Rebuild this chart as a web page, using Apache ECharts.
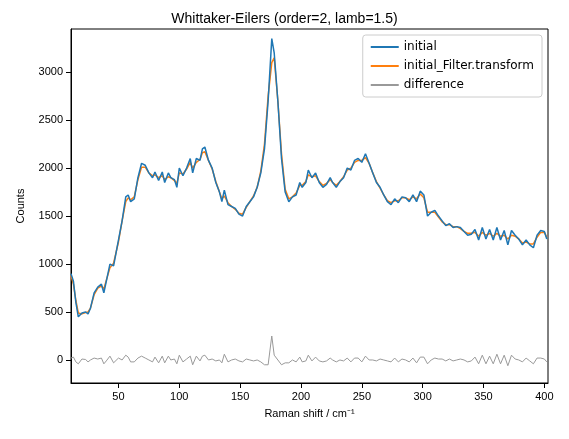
<!DOCTYPE html><html><head><meta charset="utf-8"><script src="https://cdn.jsdelivr.net/npm/echarts@6/dist/echarts.min.js"></script></head><body style="margin:0"><div id="c" style="width:569px;height:439px"></div><script>
const xs=[11,13,15,17,20,23,25,27,30,33,36,38,40,43,46,50,53,56,58,60,63,66,69,72,75,78,80,83,86,88,91,93,96,98,100,103,106,109,111,114,117,119,121,124,127,130,133,135,137,140,143,146,149,152,155,158,161,164,167,170,173,176,178,181,184,187,190,193,196,199,201,204,206,209,212,215,218,221,224,226,229,232,235,238,241,244,247,250,253,256,259,262,265,268,271,274,277,280,283,286,289,292,295,298,301,304,307,310,313,316,319,322,325,328,331,334,337,340,343,346,349,352,355,358,361,364,367,370,373,376,379,382,385,388,391,394,397,400,402];
const initial=[900,820,600,450,490,500,480,540,700,760,790,700,820,1000,980,1250,1450,1700,1720,1650,1680,1900,2050,2030,1950,1900,1960,1870,1960,1850,1950,1900,1880,1800,2000,1920,2000,2100,1950,2100,2080,2200,2220,2080,2000,1850,1750,1650,1770,1620,1600,1580,1520,1500,1600,1650,1700,1800,1950,2200,2700,3350,3200,2700,2100,1750,1650,1700,1720,1850,1800,1850,1980,1900,1950,1850,1800,1830,1900,1850,1800,1860,1900,2000,1980,2080,2100,2060,2150,2050,1950,1850,1800,1720,1650,1620,1680,1640,1700,1690,1650,1720,1650,1760,1720,1500,1540,1560,1500,1450,1400,1420,1380,1390,1380,1340,1300,1310,1360,1250,1380,1260,1360,1250,1380,1250,1350,1200,1350,1300,1260,1200,1250,1200,1170,1300,1350,1340,1260];
const filtered=[880,790,620,490,480,495,500,540,680,750,770,740,830,960,1010,1230,1450,1650,1690,1670,1700,1880,2010,2010,1950,1920,1930,1900,1920,1880,1910,1900,1870,1840,1950,1940,1990,2060,2000,2060,2090,2160,2170,2080,1990,1860,1750,1680,1710,1640,1600,1570,1530,1520,1590,1650,1710,1800,1970,2250,2750,3100,3150,2700,2150,1780,1680,1700,1740,1820,1820,1860,1930,1910,1920,1860,1820,1840,1880,1850,1820,1860,1910,1980,2000,2060,2080,2080,2110,2050,1950,1860,1790,1720,1660,1640,1660,1660,1690,1690,1670,1700,1680,1730,1690,1540,1540,1540,1490,1440,1410,1410,1390,1390,1370,1340,1320,1320,1330,1290,1330,1300,1320,1290,1320,1290,1300,1260,1300,1290,1260,1220,1230,1210,1210,1280,1330,1330,1280];
const diff=initial.map((v,i)=>v-filtered[i]);
const pairs=a=>xs.map((x,i)=>[x,a[i]]);
const c=echarts.init(document.getElementById('c'));
const line={show:true,onZero:false,lineStyle:{color:'#000'}};
const tick={show:true,lineStyle:{color:'#000'}};
const nts={color:'#000',fontSize:11};
c.setOption({animation:false,
title:{text:'Whittaker-Eilers (order=2, lamb=1.5)',left:'center',top:7,textStyle:{fontSize:14,fontWeight:'normal',color:'#000'}},
grid:{left:71,right:21,top:29,bottom:56,show:true,borderColor:'#000',borderWidth:1},
legend:{right:27,top:35,orient:'vertical',itemWidth:28,itemHeight:2,itemGap:7,backgroundColor:'#fff',borderColor:'#ccc',borderWidth:1,borderRadius:3,padding:[6,8],textStyle:{fontSize:12,color:'#000',fontFamily:'DejaVu Sans'},icon:'rect',data:['initial','initial_Filter.transform','difference']},
xAxis:{type:'value',min:11,max:403,splitNumber:8,name:'Raman shift / cm⁻¹',nameLocation:'middle',nameGap:25,axisLine:line,axisTick:tick,splitLine:{show:false},axisLabel:{color:'#000',fontSize:11,showMinLabel:false,showMaxLabel:false,formatter:v=>String(v)},nameTextStyle:nts},
yAxis:{type:'value',min:-240,max:3450,splitNumber:7,name:'Counts',nameLocation:'middle',nameGap:45,axisLine:line,axisTick:tick,splitLine:{show:false},axisLabel:{color:'#000',fontSize:11,showMinLabel:false,showMaxLabel:false,formatter:v=>String(v)},nameTextStyle:nts},
series:[
{name:'initial',type:'line',data:pairs(initial),showSymbol:false,lineStyle:{width:1.5,color:'#1f77b4'},itemStyle:{color:'#1f77b4'},z:3},
{name:'initial_Filter.transform',type:'line',data:pairs(filtered),showSymbol:false,lineStyle:{width:1.5,color:'#ff7f0e'},itemStyle:{color:'#ff7f0e'},z:2},
{name:'difference',type:'line',data:pairs(diff),showSymbol:false,lineStyle:{width:1,color:'#999'},itemStyle:{color:'#999'},z:1}
]});
</script></body></html>
